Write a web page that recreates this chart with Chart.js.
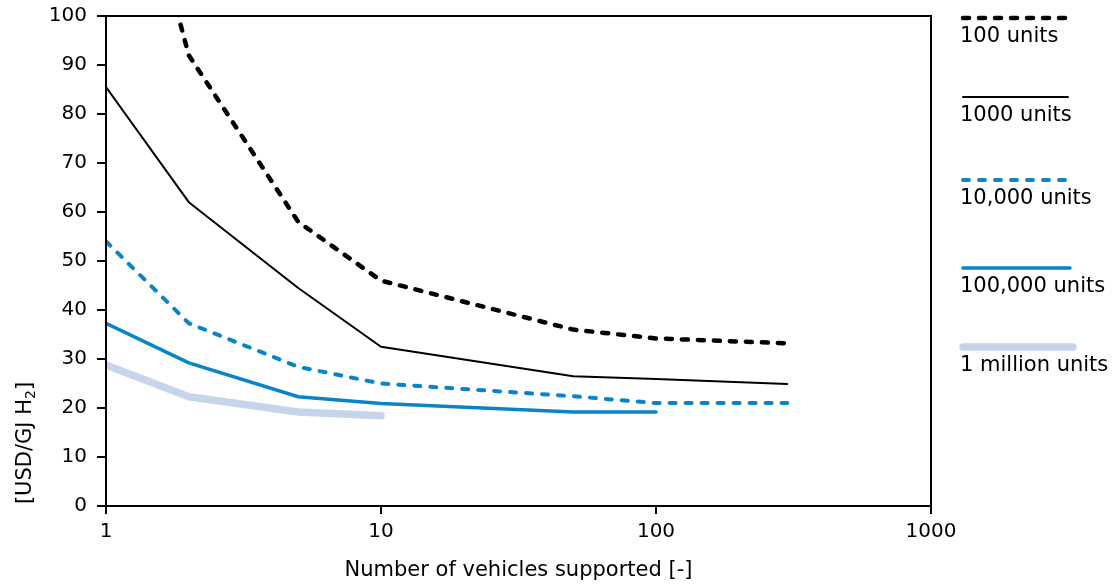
<!DOCTYPE html>
<html>
<head>
<meta charset="utf-8">
<script src="https://cdn.jsdelivr.net/npm/chart.js@4/dist/chart.umd.min.js"></script>
<style>
  html, body { margin: 0; padding: 0; background: #fff; }
  canvas { display: block; }
</style>
</head>
<body>
<canvas id="costChart" width="1117" height="586"></canvas>
<script>
// Data
const vehicles = [1, 2, 5, 10, 50, 100, 300];
const seriesNames = ["100 units", "1000 units", "10,000 units", "100,000 units", "1 million units"];
const units100 = [155, 92, 58, 46, 36, 34.2, 33.2];
const units1000 = [85.5, 62, 44.5, 32.5, 26.5, 25.9, 24.9];
const units10k = [54, 37.3, 28.4, 25, 22.4, 21, 21];
const units100k = [37.3, 29.2, 22.3, 20.9, 19.2, 19.2, null];
const units1M = [28.8, 22.3, 19.2, 18.4, null, null, null];
const xTicks = [1, 10, 100, 1000];

const BLUE = '#0a84c8';
const LIGHT = '#c6d5eb';
const FONT = "'DejaVu Sans', sans-serif";

Chart.defaults.font.family = FONT;
Chart.defaults.font.size = 20;
Chart.defaults.color = '#000';

function toPoints(values) {
    return vehicles.map((v, i) => ({ x: v, y: values[i] })).filter(p => p.y !== null);
}

const styles = [
    { color: '#000', width: 4.5, dash: [6, 10] },
    { color: '#000', width: 2, dash: [] },
    { color: BLUE, width: 4, dash: [6, 10] },
    { color: BLUE, width: 3.5, dash: [] },
    { color: LIGHT, width: 7.5, dash: [] }
];
const allSeries = [units100, units1000, units10k, units100k, units1M];

const datasets = allSeries.map((vals, i) => ({
    label: seriesNames[i],
    data: toPoints(vals),
    borderColor: styles[i].color,
    borderWidth: styles[i].width,
    borderDash: styles[i].dash,
    borderCapStyle: 'round',
    borderJoinStyle: 'round',
    pointRadius: 0,
    fill: false,
    tension: 0
})).reverse(); // light line underneath

// frame, legend and y title
const extras = {
    id: 'extras',
    afterDraw(chart) {
        const ctx = chart.ctx;
        const a = chart.chartArea;
        ctx.save();
        ctx.strokeStyle = '#000';
        ctx.lineWidth = 2;
        ctx.strokeRect(a.left, a.top, a.right - a.left, a.bottom - a.top);

        // legend on the right
        const lineY = [18, 97, 180, 268, 347];
        const lineEnd = [1066, 1068, 1066, 1070, 1073];
        ctx.textAlign = 'left';
        ctx.textBaseline = 'middle';
        ctx.font = "21px " + FONT;
        seriesNames.forEach((name, i) => {
            const s = styles[i];
            ctx.beginPath();
            ctx.strokeStyle = s.color;
            ctx.lineWidth = s.width;
            ctx.lineCap = 'round';
            ctx.setLineDash(s.dash);
            ctx.moveTo(963, lineY[i]);
            ctx.lineTo(lineEnd[i], lineY[i]);
            ctx.stroke();
            ctx.setLineDash([]);
            ctx.fillStyle = '#000';
            ctx.fillText(name, 960, lineY[i] + 19);
        });

        // y axis title with subscript
        ctx.translate(26, 443);
        ctx.rotate(-Math.PI / 2);
        ctx.textBaseline = 'middle';
        ctx.font = "21px " + FONT;
        const main = '[USD/GJ H';
        const w1 = ctx.measureText(main).width;
        ctx.font = "14px " + FONT;
        const w2 = ctx.measureText('2').width;
        ctx.font = "21px " + FONT;
        const w3 = ctx.measureText(']').width;
        const x0 = -(w1 + w2 + w3) / 2;
        ctx.fillText(main, x0, 0);
        ctx.font = "14px " + FONT;
        ctx.fillText('2', x0 + w1, 5);
        ctx.font = "21px " + FONT;
        ctx.fillText(']', x0 + w1 + w2, 0);
        ctx.restore();
    }
};

new Chart(document.getElementById('costChart'), {
    type: 'line',
    data: { datasets: datasets },
    plugins: [extras],
    options: {
        responsive: false,
        animation: false,
        layout: { padding: { top: 16, right: 186, left: 0, bottom: 0 } },
        plugins: { legend: { display: false }, tooltip: { enabled: false } },
        scales: {
            x: {
                type: 'logarithmic',
                min: 1,
                max: 1000,
                afterBuildTicks: (scale) => { scale.ticks = xTicks.map(v => ({ value: v, major: true })); },
                afterFit: (scale) => { scale.height = 80; },
                ticks: { padding: 6, maxRotation: 0, autoSkip: false, callback: (v) => String(v) },
                grid: { drawOnChartArea: false, drawTicks: true, tickLength: 8, color: '#000', lineWidth: 2 },
                border: { color: '#000', width: 2 },
                title: { display: true, text: 'Number of vehicles supported [-]', font: { size: 21 }, padding: { top: 0, bottom: 3 } }
            },
            y: {
                min: 0,
                max: 100,
                afterFit: (scale) => { scale.width = 106; scale.paddingTop = 0; scale.paddingBottom = 0; },
                ticks: { stepSize: 10, padding: 10 },
                grid: { drawOnChartArea: false, drawTicks: true, tickLength: 9, color: '#000', lineWidth: 2 },
                border: { color: '#000', width: 2 }
            }
        }
    }
});
</script>
</body>
</html>
